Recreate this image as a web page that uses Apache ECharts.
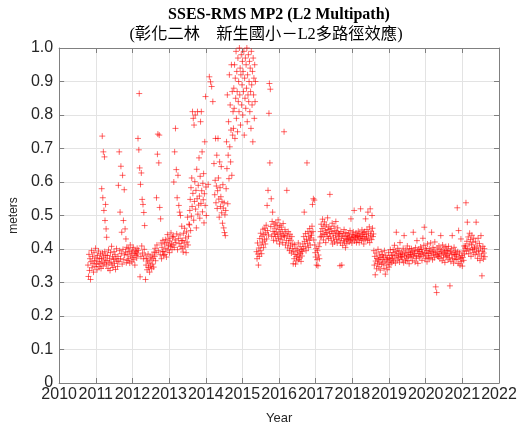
<!DOCTYPE html>
<html><head><meta charset="utf-8">
<script src="https://cdn.jsdelivr.net/npm/echarts@6/dist/echarts.min.js"></script>
<style>html,body{margin:0;padding:0;background:#fff}#c{width:524px;height:430px}</style>
</head><body><div id="c"></div>
<script>
// ---- data (MP2 RMS, meters), each array spans [from, to] in decimal years ----
const v1 = [0.352,0.318,0.384,0.336,0.371,0.309,0.362,0.395,0.344,0.378,0.357,0.331,0.389,0.366,0.348,0.402,0.373,0.355,0.338,0.381,0.362,0.394,0.347,0.371,0.356,0.385,0.342];
const v2 = [0.372,0.58,0.361,0.737,0.388,0.553,0.349,0.69,0.376,0.515,0.358,0.675,0.392,0.485,0.367,0.533,0.381,0.46,0.353,0.435];
const v3 = [0.365,0.381,0.342,0.397,0.358,0.372,0.336,0.389,0.361,0.408,0.352,0.377,0.345,0.369,0.392,0.357,0.383,0.339,0.371,0.401,0.364,0.348];
const v4 = [0.378,0.59,0.362,0.69,0.395,0.51,0.371,0.647,0.386,0.45,0.355,0.62,0.399,0.485,0.368,0.577,0.382,0.46,0.391,0.43,0.359,0.405];
const v5 = [0.384,0.366,0.402,0.371,0.393,0.358,0.412,0.379,0.388,0.362,0.397,0.375,0.405,0.368,0.386,0.352,0.394,0.381];
const v6 = [0.391,0.373,0.402,0.385,0.73,0.396,0.696,0.864,0.642,0.317,0.593,0.378,0.627,0.409,0.548,0.388,0.533,0.371,0.509,0.399,0.47,0.382];
const v7 = [0.309,0.352,0.371,0.338,0.364,0.385,0.345,0.358,0.331,0.376,0.349,0.367,0.341,0.382,0.355,0.372,0.346,0.391];
const v8 = [0.378,0.402,0.365,0.389,0.553,0.412,0.683,0.743,0.395,0.657,0.74,0.524,0.383,0.49,0.418,0.371,0.405,0.392,0.426,0.381];
const v9 = [0.392,0.415,0.384,0.428,0.401,0.376,0.419,0.443,0.397,0.411,0.432,0.389,0.424,0.407,0.448,0.415,0.398,0.436];
const v10 = [0.412,0.438,0.6,0.405,0.69,0.427,0.76,0.419,0.637,0.445,0.553,0.398,0.62,0.431,0.53,0.416,0.51,0.442,0.5,0.408,0.425,0.468];
const v11 = [0.402,0.425,0.391,0.447,0.418,0.462,0.406,0.433,0.389,0.451,0.421,0.495,0.412,0.438,0.474];
const v12 = [0.472,0.515,0.548,0.455,0.583,0.498,0.612,0.527,0.81,0.566,0.79,0.486,0.77,0.542,0.601,0.8,0.519,0.575,0.463,0.638,0.55,0.81,0.504,0.59,0.531,0.672,0.558,0.492,0.617,0.78,0.536,0.81,0.574,0.69,0.511,0.596,0.547,0.625,0.478,0.565,0.72,0.53,0.855,0.585,0.5];
const v13 = [0.593,0.914,0.899,0.885,0.84,0.655];
const v14 = [0.562,0.605,0.73,0.538,0.588,0.68,0.521,0.574,0.73,0.612,0.549,0.495,0.66,0.583,0.527,0.556,0.646,0.508,0.541,0.477,0.592,0.522,0.463,0.538,0.449,0.502,0.44,0.515];
const v15 = [0.58,0.72,0.64,0.86,0.535,0.68,0.78,0.61,0.92,0.705,0.83,0.66,0.755,0.95,0.62,0.87,0.74,0.81];
const v16 = [0.76,0.88,0.82,0.95,0.73,0.91,0.85,0.99,0.79,0.93,0.87,0.75,0.97,0.84,0.9,0.81,1.0,0.86,0.94,0.77,0.92,0.98,0.83,0.89,0.96,0.8,0.93,0.87,0.99,0.74,0.91,0.85,0.97,0.82,0.95,0.88,1.0,0.78,0.92,0.86,0.98,0.84,0.9,0.96,0.81,0.94,0.87,0.76,0.99,0.89,0.83,0.93,0.72,0.97,0.86,0.91,0.79,0.95,0.84,0.9];
const w1 = [0.392,0.371,0.418,0.385,0.352,0.403,0.378,0.431,0.395,0.447,0.412,0.386,0.438,0.421,0.459,0.404,0.443,0.427,0.462,0.415];
const w2 = [0.448,0.471,0.43,0.53,0.455,0.575,0.442,0.805,0.894,0.657,0.877,0.467,0.55,0.438,0.482,0.51,0.452,0.426,0.474,0.445];
const w3 = [0.462,0.437,0.478,0.451,0.424,0.469,0.443,0.487,0.432,0.458,0.415,0.471,0.447,0.429,0.465,0.438,0.452,0.419,0.476,0.441];
const w4 = [0.75,0.436,0.458,0.412,0.447,0.425,0.575,0.439,0.403,0.452,0.418,0.431,0.395,0.444,0.409,0.426,0.388,0.437,0.401,0.415];
const w5 = [0.356,0.392,0.371,0.413,0.384,0.355,0.402,0.377,0.365,0.396,0.382,0.418,0.369,0.391,0.374,0.407,0.386,0.363,0.398,0.379];
const w6 = [0.392,0.415,0.401,0.437,0.51,0.423,0.408,0.446,0.395,0.429,0.657,0.417,0.452,0.404,0.438,0.426,0.461,0.412,0.433,0.448];
const w7 = [0.441,0.468,0.533,0.452,0.55,0.427,0.546,0.412,0.389,0.376,0.401,0.352,0.368,0.395,0.35,0.382,0.407,0.371,0.418,0.436];
const w8 = [0.452,0.474,0.438,0.461,0.489,0.445,0.427,0.468,0.481,0.443,0.456,0.419,0.472,0.449,0.437,0.493,0.458,0.431,0.466,0.447];
const w9 = [0.563,0.438,0.461,0.426,0.452,0.477,0.415,0.446,0.433,0.468,0.421,0.455,0.441,0.482,0.429,0.451,0.418,0.463,0.437,0.447];
const w10 = [0.427,0.445,0.35,0.418,0.452,0.432,0.352,0.439,0.411,0.446,0.425,0.458,0.421,0.437,0.404,0.449,0.43,0.416,0.441,0.428];
const w11 = [0.432,0.447,0.421,0.438,0.455,0.426,0.49,0.434,0.418,0.443,0.429,0.451,0.436,0.515,0.424,0.441,0.433,0.448,0.419,0.437];
const w12 = [0.441,0.428,0.453,0.436,0.419,0.446,0.432,0.52,0.438,0.425,0.457,0.443,0.431,0.449,0.415,0.437,0.452,0.428,0.49,0.444];
const w13 = [0.436,0.458,0.425,0.51,0.447,0.432,0.466,0.419,0.52,0.441,0.453,0.428,0.5,0.462,0.437,0.445];
const x1 = [0.395,0.352,0.378,0.323,0.364,0.388,0.341,0.372,0.356,0.399,0.368,0.347,0.382,0.361,0.337,0.375,0.392,0.354,0.369,0.383];
const x2 = [0.358,0.376,0.342,0.395,0.364,0.325,0.381,0.352,0.369,0.338,0.374,0.361,0.389,0.346,0.372,0.355,0.398,0.367,0.381,0.359];
const x3 = [0.382,0.371,0.398,0.364,0.389,0.411,0.376,0.358,0.393,0.45,0.381,0.367,0.402,0.386,0.373,0.395,0.361,0.419,0.384,0.377];
const x4 = [0.376,0.391,0.368,0.385,0.402,0.359,0.44,0.379,0.388,0.364,0.397,0.373,0.382,0.409,0.366,0.391,0.378,0.356,0.401,0.383];
const x5 = [0.389,0.374,0.401,0.383,0.365,0.392,0.45,0.378,0.396,0.387,0.361,0.404,0.381,0.372,0.425,0.394,0.357,0.386,0.399,0.376];
const x6 = [0.393,0.378,0.406,0.385,0.399,0.366,0.391,0.432,0.382,0.411,0.465,0.388,0.371,0.402,0.379,0.396,0.362,0.415,0.387,0.374];
const x7 = [0.388,0.401,0.372,0.394,0.418,0.381,0.45,0.392,0.368,0.405,0.385,0.397,0.374,0.421,0.389,0.287,0.383,0.27,0.403,0.379];
const x8 = [0.392,0.377,0.409,0.386,0.371,0.399,0.44,0.382,0.394,0.365,0.412,0.388,0.374,0.403,0.391,0.36,0.385,0.407,0.378,0.396];
const x9 = [0.381,0.396,0.368,0.408,0.387,0.374,0.29,0.393,0.363,0.401,0.383,0.44,0.372,0.389,0.358,0.405,0.384,0.369,0.395,0.379];
const x10 = [0.384,0.369,0.523,0.392,0.357,0.455,0.376,0.388,0.352,0.372,0.43,0.363,0.381,0.349,0.375,0.394,0.366,0.409,0.385,0.403];
const x11 = [0.409,0.538,0.394,0.423,0.48,0.401,0.436,0.386,0.415,0.447,0.397,0.428,0.378,0.412,0.441,0.399,0.421,0.389,0.432,0.405];
const x12 = [0.401,0.383,0.421,0.48,0.392,0.409,0.372,0.432,0.396,0.385,0.416,0.366,0.403,0.44,0.379,0.32,0.393,0.408,0.37,0.388,0.401,0.377];

const spans = [
  [2010.78,2011.15,v1],[2011.15,2011.30,v2],[2011.30,2011.60,v3],[2011.60,2011.85,v4],
  [2011.85,2012.10,v5],[2012.10,2012.35,v6],[2012.35,2012.60,v7],[2012.60,2012.85,v8],
  [2012.85,2013.10,v9],[2013.10,2013.35,v10],[2013.35,2013.55,v11],[2013.55,2014.02,v12],
  [2014.05,2014.24,v13],[2014.24,2014.55,v14],[2014.55,2014.75,v15],[2014.75,2015.36,v16],
  [2015.38,2015.63,w1],[2015.63,2015.88,w2],[2015.88,2016.13,w3],[2016.13,2016.38,w4],
  [2016.38,2016.63,w5],[2016.63,2016.88,w6],[2016.88,2017.13,w7],[2017.13,2017.38,w8],
  [2017.38,2017.63,w9],[2017.63,2017.88,w10],[2017.88,2018.13,w11],[2018.13,2018.38,w12],
  [2018.38,2018.58,w13],
  [2018.58,2018.83,x1],[2018.83,2019.08,x2],[2019.08,2019.33,x3],[2019.33,2019.58,x4],
  [2019.58,2019.83,x5],[2019.83,2020.08,x6],[2020.08,2020.33,x7],[2020.33,2020.58,x8],
  [2020.58,2020.83,x9],[2020.83,2021.08,x10],[2021.08,2021.33,x11],[2021.33,2021.62,x12]
];
const yearTicks = [2010,2022,1];
const titleText = 'SSES-RMS MP2 (L2 Multipath)';
const subText = '(彰化二林\u3000新生國小－L2多路徑效應)';

const points = [];
spans.forEach(([a,b,vals]) => {
  const n = vals.length;
  vals.forEach((v,i) => points.push([a + (b - a) * (i + 0.5) / n, v]));
});

const chart = echarts.init(document.getElementById('c'), null, {renderer:'canvas'});
const labelFont = {fontFamily:'Liberation Sans, Arial, sans-serif', fontSize:16, color:'#262626'};
const gridCol = '#e3e3e3', axCol = '#808080';
const yFmt = v => (Math.abs(v) < 1e-9 ? '0' : v.toFixed(1));
chart.setOption({
  animation:false,
  backgroundColor:'#fff',
  graphic:[
    {type:'text', x:279, y:7, style:{text:titleText, font:'bold 16px "Liberation Serif", "Times New Roman", serif', fill:'#000', textAlign:'center', textVerticalAlign:'top'}},
    {type:'text', x:266, y:27, style:{text:subText, font:'16.3px "Liberation Serif", "Noto Sans CJK TC", serif', fill:'#000', textAlign:'center', textVerticalAlign:'top'}}
  ],
  grid:{left:57, right:25, top:48, bottom:44, containLabel:false},
  xAxis:[{
    type:'value', min:yearTicks[0], max:yearTicks[1], interval:yearTicks[2],
    name:'Year', nameLocation:'middle', nameGap:29,
    nameTextStyle:{fontFamily:'Liberation Sans, Arial, sans-serif', fontSize:13, color:'#262626'},
    axisLine:{show:true, onZero:false, lineStyle:{color:axCol, width:1}},
    axisTick:{show:true, inside:true, length:5, lineStyle:{color:axCol}},
    axisLabel:Object.assign({margin:4, formatter:v => String(v)}, labelFont),
    splitLine:{show:true, lineStyle:{color:gridCol, width:1}}
  },{
    type:'value', position:'top', min:yearTicks[0], max:yearTicks[1], interval:yearTicks[2],
    axisLine:{show:true, onZero:false, lineStyle:{color:axCol}},
    axisTick:{show:true, inside:true, length:5, lineStyle:{color:axCol}},
    axisLabel:{show:false}, splitLine:{show:false}
  }],
  yAxis:[{
    type:'value', min:0, max:1, interval:0.1,
    name:'meters', nameLocation:'middle', nameGap:36, nameRotate:90,
    nameTextStyle:{fontFamily:'Liberation Sans, Arial, sans-serif', fontSize:12, color:'#262626'},
    axisLine:{show:true, onZero:false, lineStyle:{color:axCol}},
    axisTick:{show:true, inside:true, length:5, lineStyle:{color:axCol}},
    axisLabel:Object.assign({margin:6, formatter:yFmt}, labelFont),
    splitLine:{show:true, lineStyle:{color:gridCol, width:1}}
  },{
    type:'value', position:'right', min:0, max:1, interval:0.1,
    axisLine:{show:true, onZero:false, lineStyle:{color:axCol}},
    axisTick:{show:true, inside:true, length:5, lineStyle:{color:axCol}},
    axisLabel:{show:false}, splitLine:{show:false}
  }],
  series:[{
    type:'scatter', xAxisIndex:0, yAxisIndex:0,
    data:points,
    symbol:'path://M0,-3L0,3M-3,0L3,0',
    symbolSize:6,
    itemStyle:{color:'#ff0000', borderColor:'#ff0000', borderWidth:0.8, opacity:0.75},
    emphasis:{disabled:true},
    clip:true
  }]
});
</script></body></html>
